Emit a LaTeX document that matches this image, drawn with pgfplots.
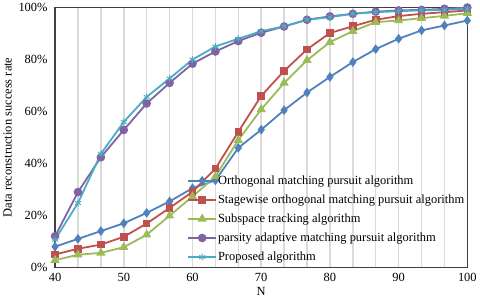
\documentclass[border=0pt]{standalone}
\usepackage{pgfplots}
\pgfplotsset{compat=1.18}
\usepackage{fontspec}
\setmainfont{Liberation Serif}
\definecolor{c1}{RGB}{79,129,189}
\definecolor{c2}{RGB}{192,80,77}
\definecolor{c3}{RGB}{155,187,89}
\definecolor{c4}{RGB}{128,100,162}
\definecolor{c5}{RGB}{75,172,198}
\begin{document}
\begin{tikzpicture}
\begin{axis}[
  scale only axis, width=414pt, height=261pt,
  xmin=40, xmax=100, ymin=0, ymax=100,
  xtick={40,50,...,100},
  minor xtick={43.333,46.667,53.333,56.667,63.333,66.667,73.333,76.667,83.333,86.667,93.333,96.667},
  xmajorgrids, xminorgrids,
  major grid style={draw=black!14, line width=1.5pt},
  minor grid style={draw=black!14, line width=1.5pt},
  ytick={0,20,...,100},
  yticklabel={\pgfmathprintnumber{\tick}\%},
  major tick length=0pt, minor tick length=0pt,
  /pgf/number format/assume math mode=true,
  axis line style={draw=black!75, line width=1.2pt},
  tick label style={font=\fontsize{12.5}{14}\selectfont},
  xticklabel style={yshift=-2pt},
  yticklabel style={xshift=-4pt},
  xlabel={N}, ylabel={Data reconstruction success rate},
  label style={font=\fontsize{12.5}{14}\selectfont},
  xlabel style={yshift=1pt},
  ylabel style={yshift=0pt},
  every axis plot/.append style={line width=1.8pt},
  legend style={at={(rel axis cs:0.318,0.012)}, anchor=south west, draw=none, fill=none,
    font=\fontsize{12.5}{14}\selectfont, row sep=7pt, inner sep=1pt,
    nodes={inner sep=1pt, anchor=west}},
  legend cell align=left,
  legend image code/.code={\draw[#1, mark repeat=2, mark phase=2] plot coordinates {(0pt,0pt)(14pt,0pt)(28pt,0pt)};},
]
\addplot[c1, mark=diamond*, mark size=3.4pt, mark options={solid}] coordinates {
(40,8)(43.333,11)(46.667,14)(50,17)(53.333,21)(56.667,25.4)(60,30.5)(63.333,33.5)(66.667,46)(70,53)(73.333,60.5)(76.667,67.3)(80,73.3)(83.333,79)(86.667,84)(90,88)(93.333,91.2)(96.667,93.1)(100,95)};
\addlegendentry{Orthogonal matching pursuit algorithm}
\addplot[c2, mark=square*, mark size=2.9pt] coordinates {
(40,5)(43.333,7.2)(46.667,8.8)(50,11.8)(53.333,16.9)(56.667,22.9)(60,29.1)(63.333,38)(66.667,52.2)(70,66)(73.333,75.6)(76.667,83.9)(80,90.2)(83.333,92.8)(86.667,95.3)(90,96.7)(93.333,97.6)(96.667,98.2)(100,98.9)};
\addlegendentry{Stagewise orthogonal matching pursuit algorithm}
\addplot[c3, mark=triangle*, mark size=3.6pt] coordinates {
(40,2.8)(43.333,4.9)(46.667,5.6)(50,7.8)(53.333,12.6)(56.667,19.9)(60,27.3)(63.333,35)(66.667,49)(70,60.8)(73.333,71)(76.667,79.7)(80,86.7)(83.333,90.9)(86.667,94.4)(90,95)(93.333,95.9)(96.667,96.8)(100,97.8)};
\addlegendentry{Subspace tracking algorithm}
\addplot[c4, mark=*, mark size=3.4pt] coordinates {
(40,12)(43.333,29)(46.667,42.4)(50,52.9)(53.333,63.1)(56.667,71)(60,78.4)(63.333,83.1)(66.667,87.1)(70,90.3)(73.333,92.7)(76.667,95.3)(80,96.6)(83.333,97.6)(86.667,98.4)(90,98.9)(93.333,99.1)(96.667,99.5)(100,100)};
\addlegendentry{parsity adaptive matching pursuit algorithm}
\addplot[c5, mark=asterisk, mark size=3.4pt, mark options={line width=1pt}] coordinates {
(40,10.7)(43.333,24.8)(46.667,43.7)(50,56)(53.333,65.6)(56.667,72.7)(60,80)(63.333,85)(66.667,88)(70,90.9)(73.333,92.8)(76.667,95.3)(80,96.3)(83.333,97.6)(86.667,98.2)(90,98.6)(93.333,98.9)(96.667,99.1)(100,99.5)};
\addlegendentry{Proposed algorithm}
\end{axis}
\end{tikzpicture}
\end{document}
